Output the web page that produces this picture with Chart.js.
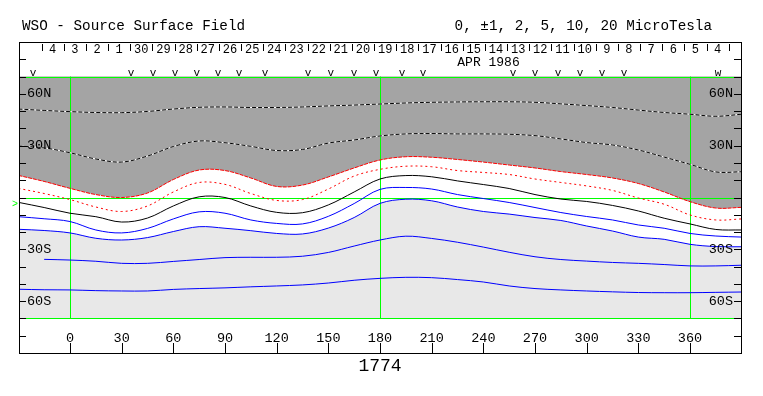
<!DOCTYPE html>
<html>
<head>
<meta charset="utf-8">
<script src="https://cdn.jsdelivr.net/npm/chart.js@4"></script>
<style>
body { margin: 0; background: #fff; }
</style>
</head>
<body>
<canvas id="wso" width="763" height="396"></canvas>
<script>
// Carrington longitude of the samples
const lon = [-30, -15, 0, 15, 30, 45, 60, 75, 90, 105, 120, 135, 150, 165, 180,
	195, 210, 225, 240, 255, 270, 285, 300, 315, 330, 345, 360, 375, 390];

// contour latitudes
const pos10 = [51.2, 50.4, 49.7, 49.2, 49.1, 49.8, 51.2, 52.2, 52.4, 52.1, 52.1, 52.4, 53.0, 53.5, 54.1,
	54.7, 55.1, 55.3, 55.4, 55.4, 55.1, 54.2, 53.2, 52.1, 50.6, 49.2, 48.2, 47.0, 48.2];
const pos5 = [29.8, 28.7, 25.9, 22.3, 20.5, 24.0, 29.5, 32.7, 31.7, 29.6, 27.2, 27.8, 31.5, 33.3, 35.6,
	36.8, 37.0, 36.8, 36.8, 36.6, 35.8, 33.9, 31.8, 30.4, 27.5, 23.4, 19.2, 14.8, 14.9];
const pos2 = [12.8, 9.3, 5.3, 1.7, 0.0, 2.6, 10.4, 15.9, 15.6, 11.3, 6.4, 7.2, 11.9, 17.1, 21.7,
	23.6, 23.3, 22.0, 20.5, 18.8, 17.1, 15.0, 13.3, 11.3, 8.1, 3.2, -2.4, -6.1, -5.7];
const pos1 = [5.3, 2.3, -1.2, -5.5, -8.1, -4.9, 3.2, 8.7, 7.6, 2.3, -1.7, -1.2, 4.9, 12.4, 16.3,
	18.1, 17.8, 15.6, 14.5, 13.3, 10.7, 8.7, 6.7, 4.1, -0.3, -3.9, -10.1, -13.0, -12.4];
const neutral = [-2.8, -5.8, -9.1, -11.1, -14.2, -11.9, -4.9, 0.4, 0.0, -4.9, -8.6, -8.8, -4.3, 3.2, 10.7,
	12.7, 12.0, 9.6, 7.5, 5.2, 1.7, -0.9, -2.3, -4.6, -7.8, -12.0, -15.3, -18.5, -18.8];
const neg1 = [-11.1, -12.3, -13.9, -18.8, -20.5, -17.9, -12.4, -8.3, -9.1, -13.0, -15.0, -15.3, -10.9, -3.5, 4.7,
	5.8, 4.9, 1.7, -0.6, -2.9, -5.8, -8.7, -11.0, -13.0, -15.9, -17.8, -20.8, -22.3, -22.9];
const neg2 = [-18.4, -19.1, -20.5, -23.6, -24.6, -23.2, -19.7, -16.9, -17.8, -19.2, -20.8, -21.1, -17.7, -11.6, -3.4,
	-1.0, -1.9, -5.5, -8.1, -9.6, -11.6, -13.3, -16.5, -19.4, -22.9, -24.2, -27.1, -28.4, -28.5];
const neg5 = [null, -35.8, -36.2, -36.9, -38.1, -38.1, -37.0, -35.9, -34.8, -34.6, -34.6, -34.0, -31.8, -28.1, -24.6,
	-22.4, -23.7, -25.9, -28.7, -31.7, -34.3, -35.9, -36.8, -37.6, -38.1, -38.8, -39.6, -39.6, -39.2];
const neg10 = [-53.1, -53.4, -53.5, -53.9, -54.1, -54.1, -53.2, -52.7, -52.3, -51.7, -51.2, -50.6, -49.5, -47.9, -46.8,
	-46.2, -46.4, -47.5, -48.9, -51.2, -52.7, -53.5, -54.1, -54.6, -55.0, -55.1, -55.1, -54.9, -54.7];

// axes and annotations
const lonTicks = [0, 30, 60, 90, 120, 150, 180, 210, 240, 270, 300, 330, 360];
const latTicks = [-80, -70, -60, -50, -40, -30, -20, -10, 0, 10, 20, 30, 40, 50, 60, 70, 80];
const latLabels = [60, 30, -30, -60];
const latNames = ["60N", "30N", "30S", "60S"];
const greenLon = [0, 180, 360];
const greenLat = [70, 0, -70];
const days = ["4", "3", "2", "1", "30", "29", "28", "27", "26", "25", "24", "23", "22", "21", "20", "19",
	"18", "17", "16", "15", "14", "13", "12", "11", "10", "9", "8", "7", "6", "5", "4"];
const daySep0 = -16.5; // longitude of first day boundary
const dayStep = 12.87; // degrees per day
const monthLabel = "APR 1986";
const monthLon = 243;
const obsLon = [-21.5, 35.4, 48.2, 61.0, 73.7, 85.9, 98.1, 113.2, 138.2, 151.5, 164.9, 177.7,
	192.8, 205.0, 257.2, 270.0, 283.4, 296.1, 308.9, 321.7, 376.3];
const obsSym = "vvvvvvvvvvvvvvvvvvvvw";
const b0 = -4;
const rotation = "1774";

const font = (s) => s + 'px "Liberation Mono", "DejaVu Sans Mono", monospace';

const contour = (lats, color, dash) => ({
	data: lon.map((x, i) => ({ x: x, y: lats[i] })),
	borderColor: color,
	borderWidth: 1,
	borderDash: dash || [],
	pointRadius: 0,
	tension: 0.35,
	fill: false,
});

const datasets = [
	contour(pos10, "#000", [4, 2]),
	contour(pos10, "#fff"),
	contour(pos5, "#000", [4, 2]),
	contour(pos5, "#fff"),
	Object.assign(contour(pos2, "#ff0000", [4, 1]), { fill: { value: 70 }, backgroundColor: "#a4a4a4" }),
	contour(pos1, "#ff0000", [2, 3]),
	contour(neutral, "#000"),
	contour(neg1, "#0000ff"),
	Object.assign(contour(neg2, "#0000ff"), { fill: 4, backgroundColor: "#ffffff" }),
	contour(neg5, "#0000ff"),
	contour(neg10, "#0000ff"),
];

const crisp = (v) => Math.round(v) + 0.5;

const frame = {
	id: "frame",
	beforeDraw(chart) {
		const { ctx, chartArea: a, scales } = chart;
		const y = scales.y;
		ctx.save();
		ctx.fillStyle = "#e8e8e8";
		const t = y.getPixelForValue(70), b = y.getPixelForValue(-70);
		ctx.fillRect(a.left, t, a.right - a.left, b - t);
		ctx.restore();
	},
	beforeDatasetsDraw(chart) {
		const { ctx, chartArea: a, scales } = chart;
		const x = scales.x, y = scales.y;
		ctx.save();
		ctx.strokeStyle = "#00ff00";
		ctx.lineWidth = 1;
		ctx.beginPath();
		greenLat.forEach((v) => {
			const py = crisp(y.getPixelForValue(v));
			ctx.moveTo(a.left, py);
			ctx.lineTo(a.right, py);
		});
		greenLon.forEach((v) => {
			const px = crisp(x.getPixelForValue(v));
			ctx.moveTo(px, y.getPixelForValue(70));
			ctx.lineTo(px, y.getPixelForValue(-70));
		});
		ctx.stroke();
		ctx.restore();
	},
	afterDraw(chart) {
		const { ctx, chartArea: a, scales } = chart;
		const x = scales.x, y = scales.y;
		ctx.save();
		ctx.strokeStyle = "#000";
		ctx.lineWidth = 1;
		ctx.strokeRect(crisp(a.left), crisp(a.top), Math.round(a.right - a.left), Math.round(a.bottom - a.top));

		ctx.beginPath();
		latTicks.forEach((v) => {
			const py = crisp(y.getPixelForValue(v));
			ctx.moveTo(a.left, py);
			ctx.lineTo(a.left + 7, py);
			ctx.moveTo(a.right - 7, py);
			ctx.lineTo(a.right, py);
		});
		lonTicks.forEach((v) => {
			const px = crisp(x.getPixelForValue(v));
			ctx.moveTo(px, a.bottom);
			ctx.lineTo(px, a.bottom - 10);
		});
		for (let i = 0; i <= days.length; i++) {
			const px = crisp(x.getPixelForValue(daySep0 + i * dayStep));
			if (px > a.right - 2) continue;
			ctx.moveTo(px, a.top + 2);
			ctx.lineTo(px, a.top + 9);
		}
		ctx.stroke();

		ctx.fillStyle = "#000";
		ctx.textBaseline = "middle";
		ctx.font = font(13.5);
		latLabels.forEach((v, i) => {
			const py = y.getPixelForValue(v);
			ctx.textAlign = "left";
			ctx.fillText(latNames[i], a.left + 8, py);
			ctx.textAlign = "right";
			ctx.fillText(latNames[i], a.right - 8, py);
		});
		ctx.textAlign = "center";
		lonTicks.forEach((v) => {
			ctx.fillText(String(v), x.getPixelForValue(v), a.bottom - 15);
		});

		ctx.font = font(12);
		days.forEach((d, i) => {
			ctx.fillText(d, x.getPixelForValue(daySep0 + (i + 0.5) * dayStep), a.top + 8);
		});
		ctx.font = font(13);
		ctx.fillText(monthLabel, x.getPixelForValue(monthLon), a.top + 21);

		ctx.font = font(11);
		ctx.textBaseline = "alphabetic";
		obsLon.forEach((v, i) => {
			ctx.fillText(obsSym[i], x.getPixelForValue(v), y.getPixelForValue(70) - 1);
		});

		ctx.fillStyle = "#00ff00";
		ctx.textAlign = "right";
		ctx.textBaseline = "middle";
		ctx.font = font(10);
		ctx.fillText(">", a.left - 1, y.getPixelForValue(b0));

		ctx.fillStyle = "#000";
		ctx.font = font(14.3);
		ctx.textAlign = "left";
		ctx.fillText("WSO - Source Surface Field", 22, 26);
		ctx.textAlign = "right";
		ctx.fillText("0, \u00b11, 2, 5, 10, 20 MicroTesla", 712, 26);

		ctx.font = font(18);
		ctx.textAlign = "center";
		ctx.fillText(rotation, x.getPixelForValue(180), 366);
		ctx.restore();
	},
};

new Chart(document.getElementById("wso"), {
	type: "scatter",
	data: { datasets: datasets },
	options: {
		responsive: false,
		animation: false,
		showLine: true,
		layout: { padding: { left: 19, right: 22, top: 42, bottom: 43 } },
		scales: {
			x: { type: "linear", min: -29.6, max: 389.6, display: false },
			y: { type: "linear", min: -90, max: 90, display: false },
		},
		plugins: {
			legend: { display: false },
			tooltip: { enabled: false },
			filler: { drawTime: "beforeDatasetsDraw" },
		},
	},
	plugins: [frame],
});
</script>
</body>
</html>
